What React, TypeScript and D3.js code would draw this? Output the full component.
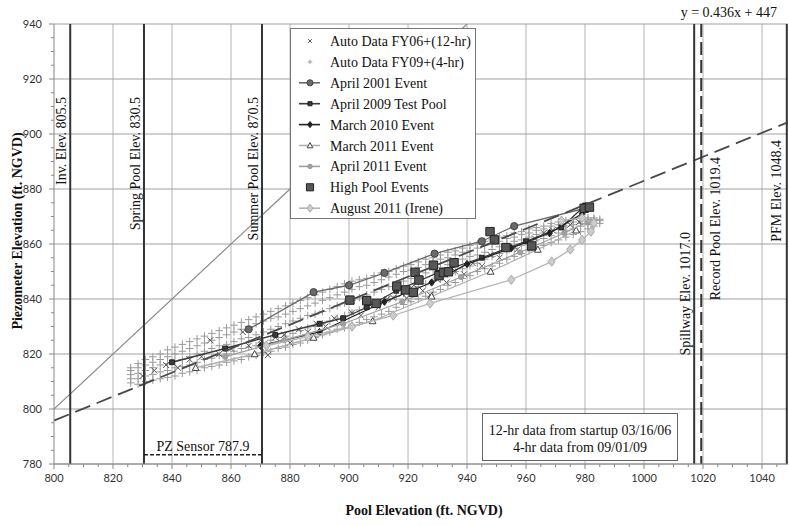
import React, { useEffect, useRef } from 'react';
import * as d3 from 'd3';

// axis ticks
const xTickValues = [800, 820, 840, 860, 880, 900, 920, 940, 960, 980, 1000, 1020, 1040];
const yTickValues = [780, 800, 820, 840, 860, 880, 900, 920, 940];

// reference elevations (vertical lines)
const refValues = [805.5, 830.5, 870.5, 1017.0, 1019.4, 1048.4];
const refLabels = [
  'Inv. Elev. 805.5',
  'Spring Pool Elev. 830.5',
  'Summer Pool Elev. 870.5',
  'Spillway Elev. 1017.0',
  'Record Pool Elev. 1019.4',
  'PFM Elev. 1048.4',
];

// regression line y = 0.436x + 447
const trendSlope = 0.436;
const trendIntercept = 447;
const trendLabel = 'y = 0.436x + 447';

// one-to-one line
const oneToOne = [[800, 800], [940, 940]];

// PZ sensor level (as drawn) and its span
const pzSensorLevel = 783.4;
const pzSensorSpan = [830.5, 870.5];
const pzSensorLabel = 'PZ Sensor 787.9';

const noteLines = ['12-hr data from startup 03/16/06', '4-hr data from 09/01/09'];

// Auto data FY09+ (4-hr): [pool, piezometer readings at that pool...]
const fy09Rows = [
  [826, 809.5, 811, 812.5, 814, 815],
  [828.5, 809, 811, 813, 815, 816.5],
  [831, 810, 812, 814, 816, 818],
  [833.5, 810.5, 812.5, 815, 817, 819],
  [836, 811, 813.5, 816, 818, 820],
  [838.5, 811.5, 814, 816.5, 819, 821.5],
  [841, 812, 815, 817.5, 820, 822.5],
  [843.5, 813, 815.5, 818, 821, 823.5],
  [846, 813.5, 816, 819, 822, 824.5],
  [848.5, 814, 817, 820, 823, 825.5],
  [851, 815, 818, 821, 824, 826.5],
  [853.5, 815.5, 818.5, 822, 825, 827.5],
  [856, 816, 819.5, 823, 826, 828.5],
  [858.5, 817, 820, 823.5, 827, 829.5],
  [861, 817.5, 821, 824.5, 828, 830.5],
  [863.5, 818, 822, 825.5, 829, 831.5],
  [866, 819, 822.5, 826, 830, 832.5],
  [868.5, 819.5, 823, 827, 831, 833.5],
  [871, 820.5, 824, 828, 832, 834.5],
  [873.5, 821, 825, 829, 833, 835.5],
  [876, 822, 826, 830, 833.5, 836.5],
  [878.5, 822.5, 826.5, 831, 834.5, 837.5],
  [881, 823.5, 827.5, 832, 835.5, 838.5],
  [883.5, 824, 828.5, 833, 836.5, 839.5],
  [886, 825, 829.5, 834, 837.5, 840.5],
  [888.5, 826, 830, 834.5, 838.5, 841.5],
  [891, 827, 831, 835.5, 839.5, 842.5],
  [893.5, 828, 832, 836.5, 840.5, 843.5],
  [896, 829, 833, 837.5, 841.5, 844.5],
  [898.5, 829.5, 834, 838.5, 842.5, 845.5],
  [901, 830.5, 835, 839.5, 843.5, 846.5],
  [903.5, 831.5, 836, 840.5, 844.5, 847],
  [906, 832.5, 837, 841.5, 845, 847.5],
  [908.5, 833.5, 838, 842.5, 846, 848.5],
  [911, 834.5, 839, 843.5, 847, 849.5],
  [913.5, 835.5, 840, 844.5, 848, 850],
  [916, 837, 841, 845.5, 849, 851],
  [918.5, 838, 842, 846.5, 850, 852],
  [921, 839, 843.5, 847.5, 850.5, 852.5],
  [923.5, 840, 844.5, 848.5, 851.5, 853.5],
  [926, 841, 845.5, 849.5, 852.5, 854.5],
  [928.5, 842.5, 846.5, 850.5, 853.5, 855],
  [931, 843.5, 847.5, 851.5, 854.5, 856],
  [933.5, 845, 849, 852.5, 855, 857],
  [936, 846, 850, 853.5, 856, 857.5],
  [938.5, 847.5, 851, 854.5, 857, 858.5],
  [941, 848.5, 852, 855.5, 857.5, 859.5],
  [943.5, 850, 853, 856, 858.5, 860],
  [946, 851, 854.5, 857, 859.5, 861],
  [948.5, 852, 855.5, 858, 860, 861.5],
  [951, 853, 856.5, 859, 861, 862.5],
  [953.5, 854.5, 857.5, 860, 862, 863],
  [956, 855.5, 858.5, 861, 862.5, 864],
  [958.5, 856.5, 859.5, 861.5, 863.5, 864.5],
  [961, 857.5, 860.5, 862.5, 864, 865.5],
  [963.5, 858.5, 861.5, 863.5, 865, 866],
  [966, 859.5, 862, 864, 865.5, 866.5],
  [968.5, 860.5, 863, 865, 866.5, 867.5],
  [971, 861.5, 864, 866, 867, 868],
  [973.5, 862.5, 865, 866.5, 867.5, 868.5],
  [976, 863.5, 865.5, 867, 868, 869],
  [978.5, 864.5, 866.5, 867.5, 868.5, 869.5],
  [981, 865.5, 867, 868, 869, 869.5],
  [983, 866.5, 867.5, 868.5, 869, 869.5],
  [985, 867.5, 868.5, 869],
];

// Auto data FY06+ (12-hr)
const fy06Points = [
  [830, 812], [834, 814], [838, 816], [842, 815], [846, 818], [850, 819], [853, 825], [856, 820],
  [860, 822], [864, 828], [866, 823], [870, 825], [872.5, 819.6], [875, 826], [878, 827], [880, 824],
  [883, 829], [886, 828], [889, 831], [892, 830], [895, 833], [898, 832], [901, 835], [904, 834],
  [907, 838], [910, 837], [913, 840], [915, 840.4], [918, 842], [919.5, 840.3], [922, 845], [925, 843],
  [927.5, 841.5], [930, 847], [933, 846], [936, 850], [939, 849], [942, 853], [945, 852], [948, 856],
  [951, 855], [954, 859], [957, 858], [960, 861], [963, 862], [966, 864], [969, 865], [972, 866],
  [975, 867], [978, 868],
];

const april2001 = [[866, 829], [888, 842.5], [900, 845], [912, 849.5], [929, 856.5], [945, 861], [956, 866.5], [980, 873]];
const april2009 = [[840, 817], [858, 822], [875, 827], [890, 831], [898, 833], [906, 837], [916, 843], [930, 849.5], [945, 855], [960, 861], [972, 866], [980, 874]];
const march2010 = [[870, 823], [890, 828], [912, 839], [928, 846], [940, 852.7], [955, 858.5], [968, 864], [979, 871]];
const march2011 = [[848, 815], [868, 820], [888, 826], [908, 832], [928, 841], [948, 850], [964, 858], [977, 865]];
const april2011 = [[858, 819], [878, 825], [898, 831], [918, 839], [938, 848], [958, 857], [973, 864], [981, 868]];
const highPool = [
  [900.3, 839.6], [906, 839.4], [909.2, 838.4], [916.2, 844.7], [919.2, 843.3], [921.8, 842.4],
  [922.4, 849.7], [923.7, 846.9], [928.6, 852.3], [930.5, 848.5], [932, 849.6], [933.7, 849.9],
  [935.6, 853.2], [947.8, 864.5], [949.3, 861.5], [953.2, 858.7], [961.9, 859.3], [979.7, 873], [981.5, 873.4],
];
const irene = [[872, 823], [886, 826.3], [901, 830], [915, 834], [927.5, 838.4], [955, 847], [968.7, 853.6], [975, 858], [979, 861.5], [982, 864.5], [983, 867.6], [979, 869.5], [972, 868.5]];

const legendNames = [
  'Auto Data FY06+(12-hr)',
  'Auto Data FY09+(4-hr)',
  'April 2001 Event',
  'April 2009 Test Pool',
  'March 2010 Event',
  'March 2011 Event',
  'April 2011 Event',
  'High Pool Events',
  'August 2011 (Irene)',
];

// style per legend entry, same order as legendNames
const styles = [
  { line: null, marker: 'x', size: 3, fill: 'none', stroke: '#555' },
  { line: null, marker: 'plus', size: 3.8, fill: 'none', stroke: '#9a9a9a' },
  { line: '#6a6a6a', marker: 'circle', size: 3.6, fill: '#6a6a6a', stroke: '#444' },
  { line: '#3a3a3a', marker: 'square', size: 2.4, fill: '#3a3a3a', stroke: '#222' },
  { line: '#222', marker: 'diamond', size: 2.8, fill: '#222', stroke: '#222' },
  { line: '#b0b0b0', marker: 'triangle', size: 3.4, fill: '#fff', stroke: '#444' },
  { line: '#a0a0a0', marker: 'circle', size: 2.6, fill: '#a0a0a0', stroke: '#999' },
  { line: null, marker: 'square', size: 4.2, fill: '#575757', stroke: '#222' },
  { line: '#b4b4b4', marker: 'diamond', size: 3.6, fill: '#ccc', stroke: '#aaa' },
];

const serif = '"Liberation Serif", "Times New Roman", serif';
const sans = 'Lato, "Liberation Sans", sans-serif';

function markerPath(type, s) {
  switch (type) {
    case 'x':
      return `M${-s},${-s}L${s},${s}M${-s},${s}L${s},${-s}`;
    case 'plus':
      return `M${-s},0H${s}M0,${-s}V${s}`;
    case 'square':
      return `M${-s},${-s}H${s}V${s}H${-s}Z`;
    case 'diamond':
      return `M0,${-s * 1.3}L${s},0L0,${s * 1.3}L${-s},0Z`;
    case 'triangle':
      return `M0,${-s}L${s},${s * 0.8}L${-s},${s * 0.8}Z`;
    default:
      return `M${s},0A${s},${s} 0 1,1 ${-s},0A${s},${s} 0 1,1 ${s},0Z`;
  }
}

export default function App() {
  const ref = useRef(null);

  useEffect(() => {
    document.body.style.margin = '0';
    const width = 789;
    const height = 526;
    const left = 54;
    const right = 787.7;
    const top = 24;
    const bottom = 464;

    const x = d3.scaleLinear().domain([800, 1048.7]).range([left, right]);
    const y = d3.scaleLinear().domain([780, 940]).range([bottom, top]);

    const svg = d3.select(ref.current);
    svg.selectAll('*').remove();
    svg.attr('width', width).attr('height', height);

    svg.append('rect').attr('width', width).attr('height', height).attr('fill', '#fff');

    svg
      .append('defs')
      .append('clipPath')
      .attr('id', 'plot-clip')
      .append('rect')
      .attr('x', left)
      .attr('y', top)
      .attr('width', right - left)
      .attr('height', bottom - top);

    // grid
    const grid = svg.append('g');
    grid
      .selectAll('line.v')
      .data(xTickValues.filter((d) => d > 800))
      .join('line')
      .attr('x1', (d) => x(d))
      .attr('x2', (d) => x(d))
      .attr('y1', top)
      .attr('y2', bottom)
      .attr('stroke', '#b4b4b4')
      .attr('stroke-width', 1);
    grid
      .selectAll('line.h')
      .data(yTickValues)
      .join('line')
      .attr('x1', left)
      .attr('x2', right)
      .attr('y1', (d) => y(d))
      .attr('y2', (d) => y(d))
      .attr('stroke', '#a0a0a0')
      .attr('stroke-width', 1);

    const plot = svg.append('g').attr('clip-path', 'url(#plot-clip)');
    const line = d3.line().x((d) => x(d[0])).y((d) => y(d[1]));

    // 1:1 line
    plot
      .append('path')
      .attr('d', line(oneToOne))
      .attr('fill', 'none')
      .attr('stroke', '#8a8a8a')
      .attr('stroke-width', 1.2);

    const drawPoints = (data, st) => {
      plot
        .append('g')
        .selectAll('path')
        .data(data)
        .join('path')
        .attr('transform', (d) => `translate(${x(d[0])},${y(d[1])})`)
        .attr('d', markerPath(st.marker, st.size))
        .attr('fill', st.fill)
        .attr('stroke', st.stroke)
        .attr('stroke-width', 1);
    };

    // auto data cloud
    const fy09Points = fy09Rows.flatMap((r) => r.slice(1).map((v) => [r[0], v]));
    drawPoints(fy09Points, styles[1]);
    drawPoints(fy06Points, styles[0]);

    // event series
    const events = [
      [april2001, styles[2]],
      [april2009, styles[3]],
      [march2010, styles[4]],
      [march2011, styles[5]],
      [april2011, styles[6]],
      [irene, styles[8]],
    ];
    events.forEach(([data, st]) => {
      plot
        .append('path')
        .attr('d', line(data))
        .attr('fill', 'none')
        .attr('stroke', st.line)
        .attr('stroke-width', 1.3);
      drawPoints(data, st);
    });
    drawPoints(highPool, styles[7]);

    // regression line
    const xd = x.domain();
    plot
      .append('path')
      .attr('d', line(xd.map((v) => [v, trendSlope * v + trendIntercept])))
      .attr('fill', 'none')
      .attr('stroke', '#4a4a4a')
      .attr('stroke-width', 1.8)
      .attr('stroke-dasharray', '16,7');

    // vertical reference lines
    const refSide = [-4, -4, -4, -4, 19, -6];
    const refTop = [97, 97, 97, 232, 157, 140];
    refValues.forEach((v, i) => {
      svg
        .append('line')
        .attr('x1', x(v))
        .attr('x2', x(v))
        .attr('y1', top)
        .attr('y2', bottom)
        .attr('stroke', '#333')
        .attr('stroke-width', 2)
        .attr('stroke-dasharray', i === 4 ? '13,5' : null);
      svg
        .append('text')
        .attr('transform', `translate(${x(v) + refSide[i]},${refTop[i]}) rotate(-90)`)
        .attr('text-anchor', 'end')
        .attr('font-family', serif)
        .attr('font-size', 14)
        .attr('fill', '#111')
        .text(refLabels[i]);
    });

    // PZ sensor
    svg
      .append('line')
      .attr('x1', x(pzSensorSpan[0]))
      .attr('x2', x(pzSensorSpan[1]))
      .attr('y1', y(pzSensorLevel))
      .attr('y2', y(pzSensorLevel))
      .attr('stroke', '#222')
      .attr('stroke-width', 1.5)
      .attr('stroke-dasharray', '4,2');
    svg
      .append('text')
      .attr('x', (x(pzSensorSpan[0]) + x(pzSensorSpan[1])) / 2)
      .attr('y', y(pzSensorLevel) - 4)
      .attr('text-anchor', 'middle')
      .attr('font-family', serif)
      .attr('font-size', 14)
      .attr('fill', '#111')
      .text(pzSensorLabel);

    // note box
    const note = svg.append('g');
    note
      .append('rect')
      .attr('x', 482.5)
      .attr('y', 413.5)
      .attr('width', 195)
      .attr('height', 47)
      .attr('fill', '#fff')
      .attr('stroke', '#666');
    noteLines.forEach((t, i) => {
      note
        .append('text')
        .attr('x', 580)
        .attr('y', 435 + i * 17)
        .attr('text-anchor', 'middle')
        .attr('font-family', serif)
        .attr('font-size', 14)
        .attr('fill', '#111')
        .text(t);
    });

    // legend
    const lg = svg.append('g');
    const lgTop = 28;
    const rowH = 20.9;
    lg.append('rect')
      .attr('x', 290.5)
      .attr('y', lgTop + 0.5)
      .attr('width', 185)
      .attr('height', 190)
      .attr('fill', '#fff')
      .attr('stroke', '#777');
    legendNames.forEach((name, i) => {
      const cy = lgTop + 13 + i * rowH;
      const st = styles[i];
      if (st.line) {
        lg.append('line')
          .attr('x1', 299)
          .attr('x2', 320)
          .attr('y1', cy)
          .attr('y2', cy)
          .attr('stroke', st.line)
          .attr('stroke-width', 1.6);
      }
      lg.append('path')
        .attr('transform', `translate(310,${cy})`)
        .attr('d', markerPath(st.marker, i < 2 ? st.size * 0.6 : st.size * 0.85))
        .attr('fill', st.fill)
        .attr('stroke', st.stroke)
        .attr('stroke-width', 1);
      lg.append('text')
        .attr('x', 330)
        .attr('y', cy + 5)
        .attr('font-family', serif)
        .attr('font-size', 14)
        .attr('fill', '#111')
        .text(name);
    });

    // equation
    svg
      .append('text')
      .attr('x', 777)
      .attr('y', 17)
      .attr('text-anchor', 'end')
      .attr('font-family', serif)
      .attr('font-size', 14)
      .attr('fill', '#111')
      .text(trendLabel);

    // axes
    const xAxis = svg.append('g');
    xAxis
      .append('line')
      .attr('x1', left)
      .attr('x2', right)
      .attr('y1', bottom)
      .attr('y2', bottom)
      .attr('stroke', '#888');
    xAxis
      .selectAll('line.t')
      .data(d3.range(800, 1049, 5))
      .join('line')
      .attr('x1', (d) => x(d))
      .attr('x2', (d) => x(d))
      .attr('y1', bottom)
      .attr('y2', (d) => bottom + (d % 20 === 0 ? 5 : 3))
      .attr('stroke', '#888');
    xAxis
      .selectAll('text')
      .data(xTickValues)
      .join('text')
      .attr('x', (d) => x(d))
      .attr('y', bottom + 18)
      .attr('text-anchor', 'middle')
      .attr('font-family', sans)
      .attr('font-size', 11)
      .attr('fill', '#333')
      .text((d) => d);

    const yAxis = svg.append('g');
    yAxis
      .append('line')
      .attr('x1', left)
      .attr('x2', left)
      .attr('y1', top)
      .attr('y2', bottom)
      .attr('stroke', '#888');
    yAxis
      .selectAll('line.t')
      .data(d3.range(780, 941, 5))
      .join('line')
      .attr('x1', left)
      .attr('x2', (d) => left - (d % 20 === 0 ? 5 : 3))
      .attr('y1', (d) => y(d))
      .attr('y2', (d) => y(d))
      .attr('stroke', '#888');
    yAxis
      .selectAll('text')
      .data(yTickValues)
      .join('text')
      .attr('x', left - 12)
      .attr('y', (d) => y(d))
      .attr('dy', '0.35em')
      .attr('text-anchor', 'end')
      .attr('font-family', sans)
      .attr('font-size', 11)
      .attr('fill', '#333')
      .text((d) => d);

    svg
      .append('text')
      .attr('x', 424)
      .attr('y', 515)
      .attr('text-anchor', 'middle')
      .attr('font-family', serif)
      .attr('font-weight', 'bold')
      .attr('font-size', 14)
      .attr('fill', '#111')
      .text('Pool Elevation (ft. NGVD)');
    svg
      .append('text')
      .attr('transform', 'translate(22,231) rotate(-90)')
      .attr('text-anchor', 'middle')
      .attr('font-family', serif)
      .attr('font-weight', 'bold')
      .attr('font-size', 14)
      .attr('fill', '#111')
      .text('Piezometer Elevation (ft. NGVD)');
  }, []);

  return <svg ref={ref} style={{ display: 'block' }} />;
}
